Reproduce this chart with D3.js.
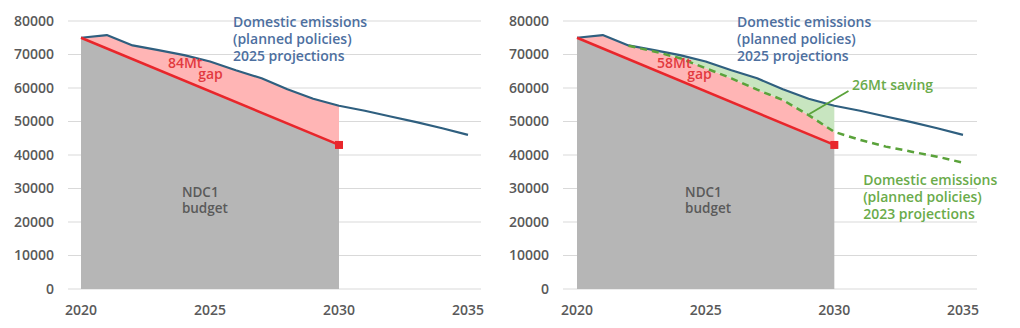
<!DOCTYPE html>
<html>
<head>
<meta charset="utf-8">
<script src="https://cdn.jsdelivr.net/npm/d3@7"></script>
<style>
  html, body { margin: 0; padding: 0; background: #ffffff; }
  svg { display: block; }
  text { font-family: "Open Sans", "DejaVu Sans", sans-serif; }
</style>
</head>
<body>
<svg id="chart" width="1020" height="328"></svg>
<script>
// ---------- data ----------
const years = [2020, 2021, 2022, 2023, 2024, 2025, 2026, 2027, 2028, 2029, 2030, 2031, 2032, 2033, 2034, 2035];
const proj2025 = [75000, 75800, 72700, 71300, 69800, 67900, 65300, 62900, 59600, 56800, 54700, 53200, 51500, 49800, 48000, 46000];
const proj2023 = [75000, 75800, 72600, 70900, 68900, 65900, 62900, 59500, 56400, 51900, 46900, 44500, 42500, 41000, 39500, 37700];
const ndcYears = [2020, 2030];
const ndcValues = [75000, 43000];
const yTicks = [0, 10000, 20000, 30000, 40000, 50000, 60000, 70000, 80000];
const xTicks = [2020, 2025, 2030, 2035];
const blueLabel = ["Domestic emissions", "(planned policies)", "2025 projections"];
const greenLabel = ["Domestic emissions", "(planned policies)", "2023 projections"];

// ---------- colours ----------
const C = {
  grid: "#d9d9d9", tick: "#595959", gray: "#b6b6b6", pink: "#ffb5b5",
  greenFill: "#c8e5c0", blue: "#2f5f7f", blueText: "#4d6f9f", red: "#e8262b",
  redText: "#e23a3f", green: "#5aa23a", greenText: "#6aab4a", budgetText: "#5a5a5a"
};

const svg = d3.select("#chart");

function drawPanel(opts) {
  const g = svg.append("g");
  const x = d3.scaleLinear().domain([2020, 2035]).range([opts.x0, opts.x1]);
  const y = d3.scaleLinear().domain([0, 80000]).range([289, 21]);
  const line = d3.line().x(d => x(d[0])).y(d => y(d[1]));

  // gridlines
  g.selectAll("line.grid").data(yTicks).join("line")
    .attr("x1", opts.gx0).attr("x2", opts.gx1)
    .attr("y1", d => y(d)).attr("y2", d => y(d))
    .attr("stroke", C.grid).attr("stroke-width", 1);

  // y tick labels
  g.selectAll("text.ytick").data(yTicks).join("text")
    .attr("x", opts.labelRight).attr("y", d => y(d)).attr("dy", "0.35em")
    .attr("text-anchor", "end").attr("fill", C.tick)
    .attr("font-size", 14).attr("font-weight", 600).text(d => d);

  // x tick labels
  g.selectAll("text.xtick").data(xTicks).join("text")
    .attr("x", d => x(d)).attr("y", 315)
    .attr("text-anchor", "middle").attr("fill", C.tick)
    .attr("font-size", 14).attr("font-weight", 600).text(d => d);

  const idx2030 = years.indexOf(2030);
  const bluePts = years.slice(0, idx2030 + 1).map((yr, i) => [yr, proj2025[i]]);
  const greenPts = years.slice(0, idx2030 + 1).map((yr, i) => [yr, proj2023[i]]);
  const ndcPts = ndcYears.map((yr, i) => [yr, ndcValues[i]]);

  // gray budget area
  g.append("path")
    .attr("d", line(ndcPts.concat([[2030, 0], [2020, 0]])) + "Z")
    .attr("fill", C.gray);

  if (!opts.with2023) {
    g.append("path")
      .attr("d", line(bluePts.concat(ndcPts.slice().reverse())) + "Z")
      .attr("fill", C.pink);
  } else {
    g.append("path")
      .attr("d", line(greenPts.concat(ndcPts.slice().reverse())) + "Z")
      .attr("fill", C.pink);
    g.append("path")
      .attr("d", line(bluePts.concat(greenPts.slice().reverse())) + "Z")
      .attr("fill", C.greenFill);
  }

  // blue line
  g.append("path")
    .attr("d", line(years.map((yr, i) => [yr, proj2025[i]])))
    .attr("fill", "none").attr("stroke", C.blue).attr("stroke-width", 2.2)
    .attr("stroke-linejoin", "round");

  if (opts.with2023) {
    g.append("path")
      .attr("d", line(years.map((yr, i) => [yr, proj2023[i]]).slice(2)))
      .attr("fill", "none").attr("stroke", C.green).attr("stroke-width", 2.5)
      .attr("stroke-dasharray", "7,5");
  }

  // red NDC line + marker
  g.append("path")
    .attr("d", line(ndcPts))
    .attr("fill", "none").attr("stroke", C.red).attr("stroke-width", 2.5);
  g.append("rect")
    .attr("x", x(2030) - 4).attr("y", y(43000) - 4)
    .attr("width", 8).attr("height", 8).attr("fill", C.red);

  // annotations
  const tx = (yr, v, s, color, size) => g.append("text")
    .attr("x", x(yr)).attr("y", y(v)).attr("fill", color)
    .attr("font-size", size || 14).attr("font-weight", 600).text(s);

  blueLabel.forEach((s, i) => tx(opts.blueYear, [78210, 73130, 68060][i], s, C.blueText));
  tx(opts.gapYear, 65970, opts.gapText, C.redText);
  tx(opts.gapYear + 1.17, 62690, "gap", C.redText);
  tx(opts.ndcYear, 27460, "NDC1", C.budgetText, 13.5);
  tx(opts.ndcYear, 22690, "budget", C.budgetText, 13.5);

  if (opts.with2023) {
    tx(2030.69, 59400, "26Mt saving", C.greenText);
    g.append("line")
      .attr("x1", x(2029.03)).attr("y1", y(52240))
      .attr("x2", x(2030.55)).attr("y2", y(59100))
      .attr("stroke", C.green).attr("stroke-width", 1.8);
    greenLabel.forEach((s, i) => tx(2031.12, [31040, 25970, 20900][i], s, C.greenText));
  }
}

drawPanel({ x0: 81, x1: 468, gx0: 68, gx1: 481, labelRight: 54,
  with2023: false, blueYear: 2025.89, gapYear: 2023.37, gapText: "84Mt", ndcYear: 2023.91 });
drawPanel({ x0: 577, x1: 963, gx0: 563, gx1: 977, labelRight: 549,
  with2023: true, blueYear: 2026.22, gapYear: 2023.11, gapText: "58Mt", ndcYear: 2024.2 });
</script>
</body>
</html>
